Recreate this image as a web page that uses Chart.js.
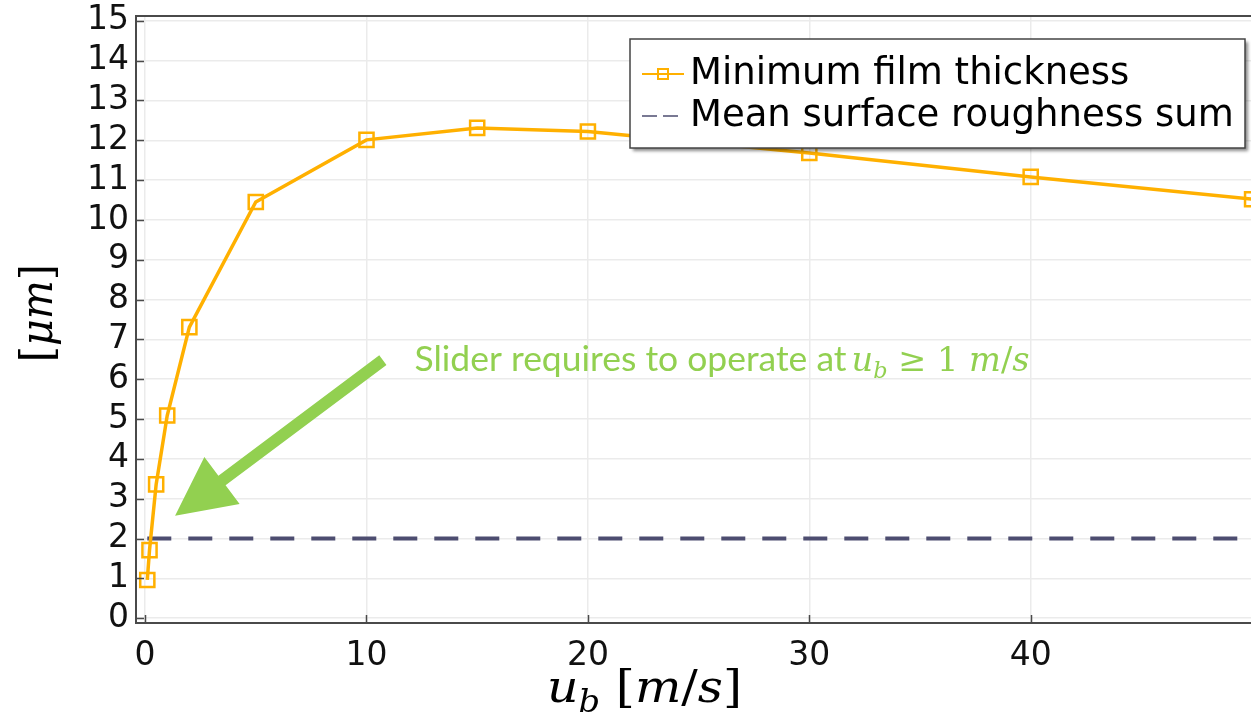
<!DOCTYPE html>
<html><head><meta charset="utf-8">
<script src="https://cdn.jsdelivr.net/npm/chart.js@4.4.1/dist/chart.umd.min.js"></script>
<style>html,body{margin:0;padding:0;background:#fff;overflow:hidden}canvas{display:block}</style>
</head><body>
<canvas id="c" width="1251" height="717"></canvas>
<script>
// ---- data ----
const speeds = [0.1, 0.2, 0.5, 1, 2, 5, 10, 15, 20, 30, 40, 50];
const filmThickness = [0.96, 1.71, 3.36, 5.09, 7.31, 10.45, 12.01, 12.31, 12.22, 11.68, 11.08, 10.52];
const roughnessSpeeds = [0.1, 50];
const roughnessSum = [2, 2];
const xTickValues = [0, 10, 20, 30, 40];
const yTickValues = [0, 1, 2, 3, 4, 5, 6, 7, 8, 9, 10, 11, 12, 13, 14, 15];
const seriesLabels = ['Minimum film thickness', 'Mean surface roughness sum'];
const xRange = [-0.41, 49.95];
const yRange = [-0.12, 15.12];
const noteText = 'Slider requires to operate at';
const arrowTail = [10.74, 6.48];
const arrowTip = [1.355, 2.575];
const noteAnchor = [12.17, 6.2];
const xTitleCenter = 22.56;
const yTitleCenter = 7.66;

const ORANGE = '#ffb000';
const SLATE = '#4d4d70';
const GREEN = '#92d050';

function drawRuns(ctx, runs, x, baseline, targetW, color) {
  let total = 0;
  runs.forEach(r => { ctx.font = r.font; r.w = ctx.measureText(r.t).width; total += r.w; });
  const sx = targetW ? targetW / total : 1;
  ctx.save();
  ctx.translate(x, baseline);
  ctx.scale(sx, 1);
  ctx.fillStyle = color;
  ctx.textBaseline = 'alphabetic';
  ctx.textAlign = 'left';
  let cx = 0;
  runs.forEach(r => { ctx.font = r.font; ctx.fillText(r.t, cx, r.dy || 0); cx += r.w; });
  ctx.restore();
}

function drawArrow(ctx, x1, y1, x2, y2, shaftW, headL, headW) {
  const dx = x2 - x1, dy = y2 - y1, len = Math.hypot(dx, dy);
  const ux = dx / len, uy = dy / len, px = -uy, py = ux;
  const bx = x2 - ux * headL, by = y2 - uy * headL;
  ctx.beginPath();
  ctx.moveTo(x1 + px * shaftW / 2, y1 + py * shaftW / 2);
  ctx.lineTo(bx + px * shaftW / 2, by + py * shaftW / 2);
  ctx.lineTo(bx + px * headW / 2, by + py * headW / 2);
  ctx.lineTo(x2, y2);
  ctx.lineTo(bx - px * headW / 2, by - py * headW / 2);
  ctx.lineTo(bx - px * shaftW / 2, by - py * shaftW / 2);
  ctx.lineTo(x1 - px * shaftW / 2, y1 - py * shaftW / 2);
  ctx.closePath();
  ctx.fill();
}

const overlay = {
  id: 'overlay',
  afterDraw(chart) {
    const { ctx, chartArea: a, scales: { x, y } } = chart;
    ctx.save();
    // frame
    ctx.strokeStyle = '#4a4a4a';
    ctx.lineWidth = 2;
    ctx.strokeRect(a.left, a.top, a.right - a.left + 6, a.bottom - a.top);
    // inner tick marks
    ctx.beginPath();
    yTickValues.forEach(v => { const p = Math.round(y.getPixelForValue(v)) + 0.5; ctx.moveTo(a.left, p); ctx.lineTo(a.left + 8, p); });
    xTickValues.forEach(v => { const p = Math.round(x.getPixelForValue(v)) + 0.5; ctx.moveTo(p, a.bottom); ctx.lineTo(p, a.bottom - 8); });
    ctx.lineWidth = 1.5;
    ctx.stroke();

    // legend
    const lx = a.right - 621, ly = a.top + 23, lw = 615, lh = 109;
    ctx.save();
    ctx.shadowColor = 'rgba(0,0,0,0.45)';
    ctx.shadowBlur = 3;
    ctx.shadowOffsetX = 3;
    ctx.shadowOffsetY = 3;
    ctx.fillStyle = '#fff';
    ctx.fillRect(lx, ly, lw, lh);
    ctx.restore();
    ctx.strokeStyle = '#444';
    ctx.lineWidth = 1.5;
    ctx.strokeRect(lx, ly, lw, lh);
    const r1 = ly + 35, r2 = ly + 77;
    ctx.strokeStyle = ORANGE;
    ctx.lineWidth = 2;
    ctx.beginPath(); ctx.moveTo(lx + 12, r1); ctx.lineTo(lx + 54, r1); ctx.stroke();
    ctx.strokeRect(lx + 28, r1 - 5, 10, 10);
    ctx.strokeStyle = SLATE;
    ctx.lineWidth = 1.5;
    ctx.setLineDash([15, 6]);
    ctx.beginPath(); ctx.moveTo(lx + 12, r2); ctx.lineTo(lx + 54, r2); ctx.stroke();
    ctx.setLineDash([]);
    ctx.fillStyle = '#000';
    ctx.font = '37px "DejaVu Sans"';
    ctx.textBaseline = 'middle';
    ctx.textAlign = 'left';
    ctx.fillText(seriesLabels[0], lx + 60, r1);
    ctx.fillText(seriesLabels[1], lx + 60, r2);

    // arrow + note
    ctx.fillStyle = GREEN;
    drawArrow(ctx, x.getPixelForValue(arrowTail[0]), y.getPixelForValue(arrowTail[1]),
      x.getPixelForValue(arrowTip[0]), y.getPixelForValue(arrowTip[1]), 12, 58.6, 58.8);
    const nx = x.getPixelForValue(noteAnchor[0]), nb = y.getPixelForValue(noteAnchor[1]);
    drawRuns(ctx, [{ t: noteText, font: '35px Lato' }], nx, nb, 432, GREEN);
    const mf = 'italic 33px "DejaVu Serif"', uf = '33px "DejaVu Serif"';
    drawRuns(ctx, [
      { t: 'u', font: mf }, { t: 'b', font: 'italic 22px "DejaVu Serif"', dy: 7 },
      { t: ' \u2265 ', font: uf }, { t: '1', font: uf }, { t: ' ', font: uf },
      { t: 'm', font: mf }, { t: '/', font: uf }, { t: 's', font: mf }
    ], nx + 437, nb, 178, GREEN);

    // x title
    const tf = 'italic 45px "DejaVu Serif"', tu = '45px "DejaVu Serif"';
    const xRuns = [
      { t: 'u', font: tf }, { t: 'b', font: 'italic 31px "DejaVu Serif"', dy: 10 },
      { t: ' [', font: tu }, { t: 'm', font: tf }, { t: '/', font: tu }, { t: 's', font: tf }, { t: ']', font: tu }
    ];
    drawRuns(ctx, xRuns, x.getPixelForValue(xTitleCenter) - 97.5, a.bottom + 79, 195, '#000');

    // y title
    ctx.save();
    ctx.translate(37, y.getPixelForValue(yTitleCenter));
    ctx.rotate(-Math.PI / 2);
    drawRuns(ctx, [{ t: '[', font: tu }, { t: '\u03bcm', font: tf }, { t: ']', font: tu }], -49, 15, 98, '#000');
    ctx.restore();

    ctx.restore();
  }
};

new Chart(document.getElementById('c'), {
  type: 'line',
  data: {
    datasets: [
      {
        label: seriesLabels[0],
        data: speeds.map((s, i) => ({ x: s, y: filmThickness[i] })),
        borderColor: ORANGE,
        borderWidth: 3.5,
        pointStyle: 'rect',
        pointRadius: 10,
        pointBorderWidth: 2.5,
        pointBorderColor: ORANGE,
        pointBackgroundColor: 'rgba(0,0,0,0)',
        tension: 0,
        clip: false
      },
      {
        label: seriesLabels[1],
        data: roughnessSpeeds.map((s, i) => ({ x: s, y: roughnessSum[i] })),
        borderColor: SLATE,
        borderWidth: 4,
        borderDash: [24, 17],
        pointRadius: 0,
        tension: 0,
        clip: false
      }
    ]
  },
  options: {
    responsive: false,
    animation: false,
    devicePixelRatio: 1,
    layout: { autoPadding: false, padding: { top: 16, right: 0, left: 0, bottom: 0 } },
    plugins: { legend: { display: false }, tooltip: { enabled: false } },
    scales: {
      x: {
        type: 'linear', min: xRange[0], max: xRange[1],
        afterBuildTicks: s => { s.ticks = xTickValues.map(v => ({ value: v })); },
        afterFit: s => { s.height = 94; s.paddingLeft = 0; s.paddingRight = 0; },
        grid: { color: '#ebebeb', lineWidth: 1.5, drawTicks: false },
        border: { display: false },
        ticks: { font: { family: 'DejaVu Sans', size: 33 }, color: '#111', padding: 14, maxRotation: 0, autoSkip: false }
      },
      y: {
        type: 'linear', min: yRange[0], max: yRange[1],
        afterBuildTicks: s => { s.ticks = yTickValues.map(v => ({ value: v })); },
        afterFit: s => { s.width = 136; s.paddingTop = 0; s.paddingBottom = 0; },
        grid: { color: '#ebebeb', lineWidth: 1.5, drawTicks: false },
        border: { display: false },
        ticks: { font: { family: 'DejaVu Sans', size: 33 }, color: '#111', padding: 7, autoSkip: false }
      }
    }
  },
  plugins: [overlay]
});
</script>
</body></html>
